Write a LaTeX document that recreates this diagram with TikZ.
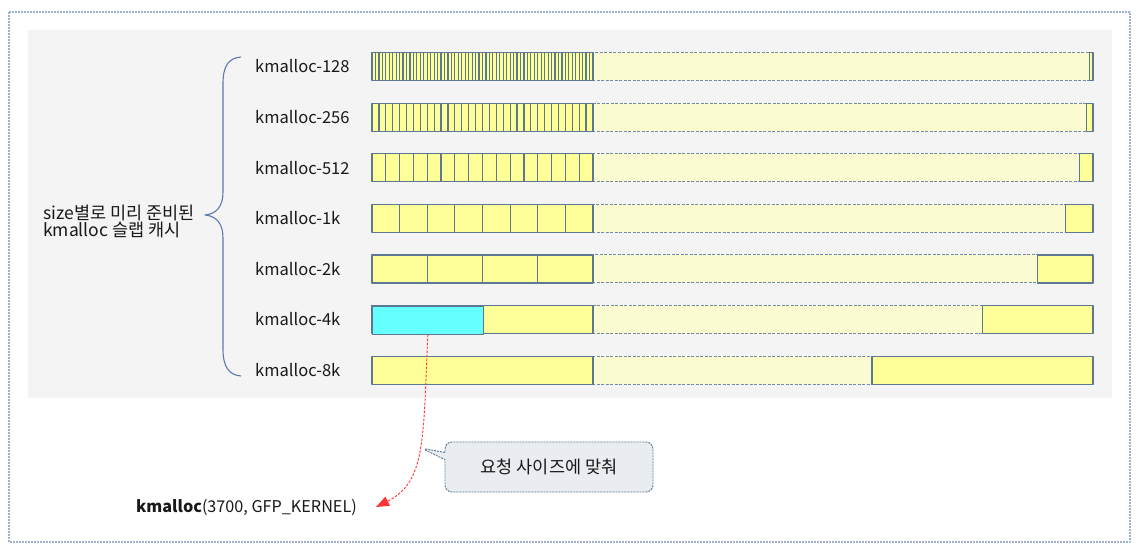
\documentclass[tikz,border=0pt]{standalone}
\usepackage{fontspec}
\setmainfont{Noto Sans CJK KR}
\usepackage{xcolor}
\definecolor{slabfill}{HTML}{FFFF99}
\definecolor{slabpale}{HTML}{FBFBD2}
\definecolor{slabedge}{HTML}{5C7893}
\definecolor{hitcyan}{HTML}{66FFFF}
\definecolor{panelgray}{HTML}{F4F4F4}
\definecolor{framedot}{HTML}{9DB2CF}
\definecolor{bracecol}{HTML}{5B7BAA}
\definecolor{callfill}{HTML}{E9ECF0}
\definecolor{reqred}{HTML}{FF3333}
\usepackage{tikz}
\usetikzlibrary{arrows.meta,shapes.callouts}
\tikzset{
  every picture/.style={line join=round},
  lbl/.style={font=\fontsize{16.5}{17}\selectfont, text=black!90, inner sep=0pt},
  hangul/.style={font=\fontsize{17.5}{17}\selectfont, text=black!90, inner sep=0pt},
  objcell/.style={fill=slabfill, draw=slabedge, line width=1.2pt},
  freearea/.style={fill=slabpale, draw=slabedge!85, line width=0.9pt, dash pattern=on 3pt off 1.5pt},
}

\begin{document}
\begin{tikzpicture}[x=1pt, y=-1pt,
  req/.style={reqred, line width=0.9pt, dash pattern=on 2.5pt off 1.5pt,
    -{Triangle[length=13pt,width=10pt]}},
  hint/.style={rectangle callout, rounded corners=7pt, fill=callfill, draw=slabedge,
    line width=0.9pt, dash pattern=on 2pt off 1pt, minimum width=208pt,
    minimum height=50pt, inner sep=0pt, hangul},
]
\useasboundingbox (0,0) rectangle (1141,551);

% frame and panel
\draw[framedot, line width=1.8pt, dash pattern=on 1.8pt off 1.2pt] (9,12) rectangle (1130,542);
\fill[panelgray] (28,30) rectangle (1112,398);

% ------------------------------------------------------------------ caches
% \i = row, \sz = size name, \n = objects in one slab
\foreach \i/\sz/\n in {0/128/64,1/256/32,2/512/16,3/1k/8,4/2k/4,5/4k/2,6/8k/1}{
  \pgfmathsetmacro{\rowy}{52.5+50.6*\i}
  \pgfmathsetmacro{\cw}{221/\n}
  \node[lbl, anchor=west] (lbl\sz) at (255,\rowy+14) {kmalloc-\sz};
  \draw[freearea] (593,\rowy) rectangle ({1093-\cw},\rowy+28);
  \foreach \k in {1,...,\n}
    \draw[objcell] ({372+(\k-1)*\cw},\rowy) rectangle ++(\cw,28);
  \draw[objcell] ({1093-\cw},\rowy) rectangle (1093,\rowy+28);
}
\node[objcell, fill=hitcyan, minimum width=110.5pt, minimum height=28pt, inner sep=0pt,
  anchor=north west] (obj4k) at (372,305.5) {};

% brace and its text
\draw[bracecol, line width=1.1pt] (241,57) .. controls (229,58) and (223,65) .. (223,84)
  -- (223,192) .. controls (223,207) and (216,214) .. (205,215)
  .. controls (216,216) and (223,223) .. (223,238)
  -- (223,349) .. controls (223,367) and (229,375) .. (241,376);
\node[hangul, anchor=west, align=left] (cachetxt) at (43,221.5) {size별로 미리 준비된\\kmalloc 슬랩 캐시};

% ------------------------------------------------------------------ request
\node[lbl, font=\fontsize{16.2}{17}\selectfont, anchor=west] (kcall) at (136,507)
  {\textbf{kmalloc}(3700, GFP\_KERNEL)};
\node[hint, callout absolute pointer={(421,448)}] (fitnote) at (549,467) {요청 사이즈에 맞춰};
\draw[req] (obj4k.south) .. controls (423,440) and (426,482) .. ([xshift=19pt]kcall.east);
\end{tikzpicture}
\end{document}
